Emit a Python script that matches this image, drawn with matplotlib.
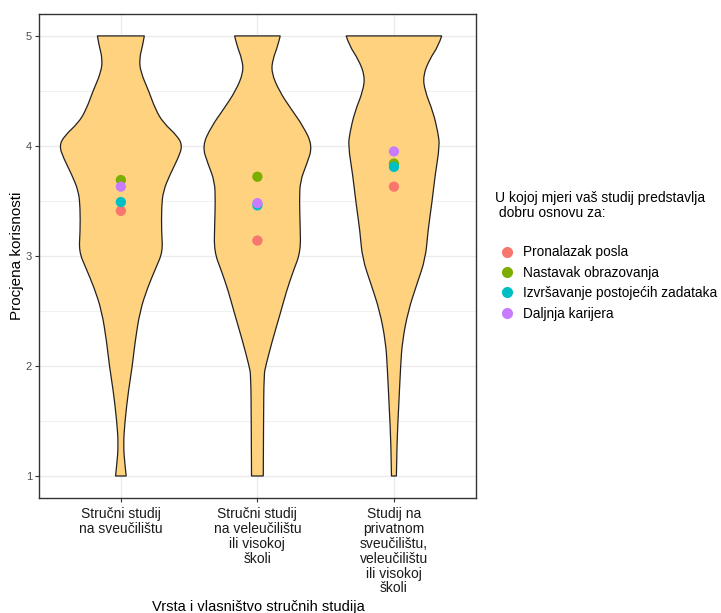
import numpy as np
import matplotlib.pyplot as plt
from matplotlib.lines import Line2D
from matplotlib.path import Path
from matplotlib.patches import PathPatch

plt.rcParams['font.family'] = ['Liberation Sans', 'DejaVu Sans']

categories = ["Stručni studij\nna sveučilištu",
              "Stručni studij\nna veleučilištu\nili visokoj\nškoli",
              "Studij na\nprivatnom\nsveučilištu,\nveleučilištu\nili visokoj\nškoli"]

series = ["Pronalazak posla", "Nastavak obrazovanja",
          "Izvršavanje postojećih zadataka", "Daljnja karijera"]
colors = ["#F8766D", "#7CAE00", "#00BFC4", "#C77CFF"]

# mean score per group, in order of series
means = {
    "Pronalazak posla":                [3.41, 3.14, 3.63],
    "Nastavak obrazovanja":            [3.69, 3.72, 3.84],
    "Izvršavanje postojećih zadataka": [3.49, 3.46, 3.81],
    "Daljnja karijera":                [3.63, 3.48, 3.95],
}

# violin outlines: score level -> half width (x units)
v1_y = [1.0, 1.1, 1.28, 1.5, 1.77, 2.0, 2.22, 2.5, 2.71, 2.89, 3.04, 3.22, 3.44, 3.59, 3.74, 3.89, 4.0, 4.09, 4.21, 4.33, 4.5, 4.67, 4.79, 4.91, 5.0]
v1_w = [0.039, 0.030, 0.018, 0.030, 0.055, 0.084, 0.104, 0.140, 0.195, 0.256, 0.307, 0.298, 0.298, 0.310, 0.360, 0.420, 0.451, 0.415, 0.311, 0.254, 0.204, 0.145, 0.135, 0.159, 0.172]
v2_y = [1.0, 1.5, 1.92, 2.0, 2.22, 2.5, 2.68, 2.86, 3.04, 3.28, 3.5, 3.68, 3.83, 4.0, 4.18, 4.33, 4.5, 4.67, 4.79, 4.91, 5.0]
v2_w = [0.043, 0.045, 0.048, 0.061, 0.107, 0.173, 0.213, 0.262, 0.317, 0.313, 0.308, 0.313, 0.360, 0.405, 0.335, 0.250, 0.159, 0.102, 0.113, 0.150, 0.167]
v3_y = [1.0, 1.31, 1.61, 2.0, 2.22, 2.5, 2.74, 2.98, 3.22, 3.5, 3.74, 4.0, 4.12, 4.31, 4.5, 4.64, 4.79, 4.91, 5.0]
v3_w = [0.018, 0.022, 0.034, 0.049, 0.061, 0.104, 0.167, 0.232, 0.248, 0.280, 0.302, 0.335, 0.323, 0.287, 0.226, 0.213, 0.262, 0.326, 0.350]
violins = [(v1_y, v1_w), (v2_y, v2_w), (v3_y, v3_w)]


def smooth_side(pts):
    # quadratic bezier through midpoints, read points act as control points
    verts = [pts[0]]
    codes = [Path.LINETO]
    for k in range(1, len(pts) - 1):
        if k < len(pts) - 2:
            end = ((pts[k][0] + pts[k + 1][0]) / 2, (pts[k][1] + pts[k + 1][1]) / 2)
        else:
            end = pts[k + 1]
        verts += [pts[k], end]
        codes += [Path.CURVE3, Path.CURVE3]
    return verts, codes


fig = plt.figure(figsize=(7.21, 6.13), dpi=100)
ax = fig.add_axes([0.054, 0.1876, 0.606, 0.7897])

for i, (vy, vw) in enumerate(violins):
    pos = i + 1
    right = [(pos + w, y) for y, w in zip(vy, vw)]
    left = [(pos - w, y) for y, w in zip(vy[::-1], vw[::-1])]
    rv, rc = smooth_side(right)
    lv, lc = smooth_side(left)
    verts = rv + lv + [rv[0]]
    codes = [Path.MOVETO] + rc[1:] + lc + [Path.CLOSEPOLY]
    patch = PathPatch(Path(verts, codes), facecolor="#FFD280", edgecolor="#222222",
                      linewidth=0.9, zorder=2)
    ax.add_patch(patch)

pos = np.arange(1, len(categories) + 1)
for s, c in zip(series, colors):
    ax.scatter(pos, means[s], s=55, color=c, edgecolors='none', zorder=3)

ax.set_xlim(0.4, 3.6)
ax.set_ylim(0.8, 5.2)
ax.set_xticks(pos)
ax.set_xticklabels(categories, fontsize=10, color="#1A1A1A", linespacing=1.08)
ax.set_yticks([1, 2, 3, 4, 5])
ax.set_yticks([1.5, 2.5, 3.5, 4.5], minor=True)
ax.tick_params(axis='y', which='minor', length=0)
ax.tick_params(axis='both', which='major', length=3, color="#333333", labelsize=8, labelcolor="#4D4D4D")
ax.tick_params(axis='y', pad=2)
ax.tick_params(axis='x', labelsize=10, labelcolor="#1A1A1A")
ax.grid(which='major', color="#EBEBEB", linewidth=1.0, zorder=0)
ax.grid(which='minor', axis='y', color="#EBEBEB", linewidth=0.5, zorder=0)
ax.set_axisbelow(True)
for sp in ax.spines.values():
    sp.set_color("#333333")
    sp.set_linewidth(1.0)

ax.set_ylabel("Procjena korisnosti", fontsize=11, labelpad=1)
fig.text(0.358, 0.0098, "Vrsta i vlasništvo stručnih studija", ha='center', va='center', fontsize=10.5)

fig.text(0.686, 0.689, "U kojoj mjeri vaš studij predstavlja\n dobru osnovu za:", ha='left', va='top',
         fontsize=10, linespacing=1.1)
handles = [Line2D([], [], marker='o', linestyle='none', markersize=8, markerfacecolor=c,
                  markeredgecolor='none') for c in colors]
fig.legend(handles, series, loc='upper left', bbox_to_anchor=(0.684, 0.6085), frameon=False,
           fontsize=9.8, labelspacing=0.47, handletextpad=0.6, handlelength=1.2, borderaxespad=0)

fig.savefig("out.png", dpi=100)
